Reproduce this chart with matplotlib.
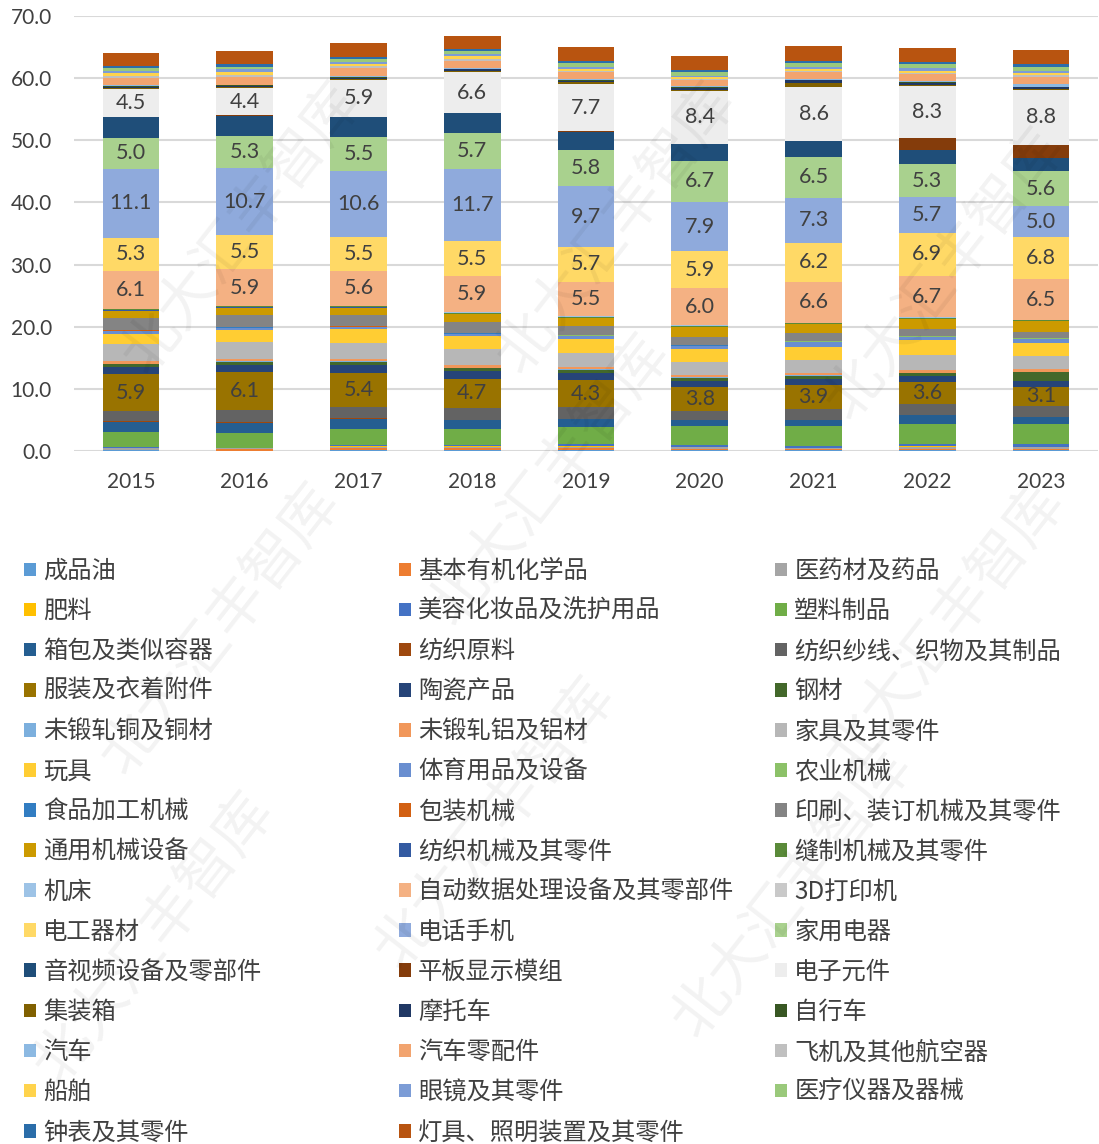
import colorsys

import numpy as np
import matplotlib
matplotlib.use('Agg')
import matplotlib.pyplot as plt
import matplotlib.colors as mcolors
from matplotlib.patches import Patch

plt.rcParams['font.family'] = ['Noto Sans CJK SC', 'DejaVu Sans']

# ----------------------------------------------------------------------
# --- data: share of exports by product (%), stacked bottom to top

years = ['2015', '2016', '2017', '2018', '2019', '2020', '2021', '2022', '2023']

refined_oil = [0.1, 0.05, 0.15, 0.15, 0.15, 0.1, 0.1, 0.15, 0.1]
organic_chem = [0.1, 0.2, 0.25, 0.25, 0.25, 0.2, 0.15, 0.2, 0.2]
medicine = [0.3, 0.15, 0.3, 0.3, 0.3, 0.3, 0.25, 0.35, 0.3]
fertilizer = [0.05, 0.05, 0.05, 0.05, 0.05, 0.05, 0.05, 0.05, 0.05]
cosmetics = [0.15, 0.1, 0.25, 0.25, 0.35, 0.35, 0.3, 0.45, 0.4]
plastics = [2.3, 2.4, 2.5, 2.5, 2.8, 2.95, 3.2, 3.2, 3.3]
luggage = [1.7, 1.6, 1.7, 1.45, 1.2, 1.0, 0.95, 1.35, 1.1]
textile_raw = [0.05, 0.05, 0.05, 0.05, 0.05, 0.05, 0.05, 0.05, 0.05]
yarn_fabric = [1.7, 2.0, 1.9, 1.9, 1.9, 1.45, 1.65, 1.7, 1.75]
apparel = [5.9, 6.1, 5.4, 4.7, 4.3, 3.8, 3.9, 3.6, 3.1]
ceramics = [1.1, 1.1, 1.3, 1.2, 1.2, 1.05, 1.05, 0.95, 0.9]
steel = [0.5, 0.5, 0.5, 0.5, 0.5, 0.45, 0.4, 0.45, 1.4]
copper = [0.1, 0.1, 0.1, 0.1, 0.1, 0.1, 0.1, 0.1, 0.1]
aluminium = [0.4, 0.4, 0.4, 0.5, 0.4, 0.3, 0.35, 0.5, 0.45]
furniture = [2.7, 2.8, 2.6, 2.5, 2.2, 2.1, 2.15, 2.35, 2.15]
toys = [1.7, 1.9, 2.1, 2.1, 2.25, 2.15, 2.15, 2.4, 2.1]
sports = [0.4, 0.3, 0.35, 0.35, 0.55, 0.5, 0.8, 0.55, 0.6]
agri_machinery = [0.05, 0.05, 0.05, 0.05, 0.05, 0.05, 0.05, 0.05, 0.05]
food_machinery = [0.05, 0.05, 0.05, 0.05, 0.05, 0.05, 0.05, 0.05, 0.05]
packaging_machinery = [0.05, 0.05, 0.05, 0.05, 0.05, 0.05, 0.05, 0.05, 0.05]
printing_machinery = [2.0, 1.9, 1.8, 1.7, 1.35, 1.35, 1.2, 1.05, 0.9]
general_machinery = [1.2, 1.2, 1.2, 1.3, 1.3, 1.5, 1.45, 1.6, 1.75]
textile_machinery = [0.1, 0.1, 0.1, 0.1, 0.1, 0.1, 0.1, 0.1, 0.1]
sewing_machinery = [0.1, 0.1, 0.1, 0.1, 0.1, 0.1, 0.1, 0.1, 0.1]
machine_tools = [0.1, 0.1, 0.1, 0.1, 0.1, 0.1, 0.05, 0.1, 0.05]
computers = [6.1, 5.9, 5.6, 5.9, 5.5, 6.0, 6.6, 6.7, 6.5]
printers_3d = [0.02, 0.02, 0.02, 0.02, 0.02, 0.02, 0.02, 0.02, 0.02]
electrical = [5.3, 5.5, 5.5, 5.5, 5.7, 5.9, 6.2, 6.9, 6.8]
phones = [11.1, 10.7, 10.6, 11.7, 9.7, 7.9, 7.3, 5.7, 5.0]
appliances = [5.0, 5.3, 5.5, 5.7, 5.8, 6.7, 6.5, 5.3, 5.6]
av_equipment = [3.3, 3.2, 3.2, 3.2, 3.0, 2.7, 2.6, 2.25, 2.15]
flat_panels = [0.05, 0.05, 0.05, 0.05, 0.05, 0.05, 0.05, 2.05, 2.15]
components = [4.5, 4.4, 5.9, 6.6, 7.7, 8.4, 8.6, 8.3, 8.8]
containers = [0.2, 0.15, 0.15, 0.2, 0.2, 0.2, 0.75, 0.25, 0.2]
motorcycles = [0.15, 0.2, 0.2, 0.25, 0.3, 0.3, 0.4, 0.3, 0.2]
bicycles = [0.1, 0.1, 0.1, 0.1, 0.15, 0.15, 0.1, 0.1, 0.1]
cars = [0.1, 0.1, 0.15, 0.15, 0.15, 0.15, 0.15, 0.15, 0.5]
auto_parts = [1.2, 1.25, 1.3, 1.1, 1.0, 1.0, 1.0, 1.1, 1.1]
aircraft = [0.3, 0.3, 0.3, 0.3, 0.25, 0.2, 0.2, 0.25, 0.3]
ships = [0.5, 0.5, 0.4, 0.5, 0.3, 0.3, 0.35, 0.35, 0.35]
glasses = [0.4, 0.4, 0.3, 0.3, 0.4, 0.25, 0.3, 0.35, 0.35]
medical = [0.4, 0.4, 0.5, 0.5, 0.55, 0.6, 0.65, 0.7, 0.65]
clocks = [0.4, 0.4, 0.3, 0.3, 0.3, 0.25, 0.3, 0.35, 0.35]
lighting = [2.0, 2.2, 2.3, 2.1, 2.25, 2.25, 2.5, 2.3, 2.3]

series = [refined_oil, organic_chem, medicine, fertilizer, cosmetics, plastics,
          luggage, textile_raw, yarn_fabric, apparel, ceramics, steel,
          copper, aluminium, furniture, toys, sports, agri_machinery,
          food_machinery, packaging_machinery, printing_machinery, general_machinery,
          textile_machinery, sewing_machinery,
          machine_tools, computers, printers_3d, electrical, phones, appliances,
          av_equipment, flat_panels, components, containers, motorcycles, bicycles,
          cars, auto_parts, aircraft, ships, glasses, medical,
          clocks, lighting]

names = ['成品油', '基本有机化学品', '医药材及药品', '肥料', '美容化妆品及洗护用品', '塑料制品',
         '箱包及类似容器', '纺织原料', '纺织纱线、织物及其制品', '服装及衣着附件', '陶瓷产品', '钢材',
         '未锻轧铜及铜材', '未锻轧铝及铝材', '家具及其零件', '玩具', '体育用品及设备', '农业机械',
         '食品加工机械', '包装机械', '印刷、装订机械及其零件', '通用机械设备', '纺织机械及其零件',
         '缝制机械及其零件',
         '机床', '自动数据处理设备及其零部件', '3D打印机', '电工器材', '电话手机', '家用电器',
         '音视频设备及零部件', '平板显示模组', '电子元件', '集装箱', '摩托车', '自行车',
         '汽车', '汽车零配件', '飞机及其他航空器', '船舶', '眼镜及其零件', '医疗仪器及器械',
         '钟表及其零件', '灯具、照明装置及其零件']

# series that carry value labels
labelled = ['服装及衣着附件', '自动数据处理设备及其零部件', '电工器材', '电话手机', '家用电器', '电子元件']

# ----------------------------------------------------------------------
# --- office-style palette: 6 accents, then luminance variants


def lum(c, mod, off=0.0):
    r, g, b = mcolors.to_rgb(c)
    h, l, s = colorsys.rgb_to_hls(r, g, b)
    return colorsys.hls_to_rgb(h, min(1.0, l * mod + off), s)


accents = ['#5B9BD5', '#ED7D31', '#A5A5A5', '#FFC000', '#4472C4', '#70AD47']
variants = [(1.0, 0.0), (0.6, 0.0), (0.8, 0.2), (0.8, 0.0), (0.6, 0.4), (0.5, 0.0), (0.7, 0.3), (0.7, 0.0)]
colors = [lum(accents[i % 6], *variants[i // 6]) for i in range(len(series))]
colors[names.index('电子元件')] = '#EDEDED'

# ----------------------------------------------------------------------
# --- plot

fig = plt.figure(figsize=(10.99, 11.44), dpi=100)
ax = fig.add_axes([0.0674, 0.6058, 0.9316, 0.3802])

x = np.arange(len(years))
bottom = np.zeros(len(years))
handles = []
for name, vals, c in zip(names, series, colors):
    vals = np.array(vals)
    bars = ax.bar(x, vals, 0.5, bottom=bottom, color=c, linewidth=0, zorder=3)
    handles.append(Patch(facecolor=c, edgecolor='none'))
    if name in labelled:
        ax.bar_label(bars, labels=[f'{v:.1f}' for v in vals], label_type='center',
                     fontsize=15.5, color='#404040', family='Lato')
    bottom += vals

ax.set_xlim(-0.5, len(years) - 0.5)
ax.set_ylim(0, 70)
ax.set_yticks(np.arange(0, 71, 10))
ax.set_yticklabels([f'{v:.1f}' for v in np.arange(0, 71, 10)])
ax.set_xticks(x)
ax.set_xticklabels(years)
ax.tick_params(axis='both', length=0, labelsize=15, labelcolor='#404040')
ax.tick_params(axis='y', pad=16)
ax.tick_params(axis='x', pad=15)
for lab in ax.get_xticklabels() + ax.get_yticklabels():
    lab.set_family('Lato')
ax.yaxis.grid(True, color='#D9D9D9', linewidth=1.5, zorder=0)
for sp in ax.spines.values():
    sp.set_visible(False)

# legend laid out in three fixed-width columns, row by row
for col, x0 in enumerate([0.0218, 0.3631, 0.7052]):
    fig.legend(handles[col::3], names[col::3], loc='upper left',
               bbox_to_anchor=(x0, 1 - 558 / 1144), frameon=False,
               fontsize=17.5, labelcolor='#404040', borderpad=0, borderaxespad=0,
               handlelength=0.49, handleheight=0.49, handletextpad=0.3,
               labelspacing=0.58)

# faint watermark
for (wx, wy) in [(0.22, 0.8), (0.56, 0.8), (0.86, 0.76), (0.5, 0.58), (0.2, 0.45),
                 (0.45, 0.28), (0.72, 0.22), (0.86, 0.45), (0.14, 0.18)]:
    fig.text(wx, wy, '北大汇丰智库', fontsize=42, color='#000000', alpha=0.05,
             rotation=52, ha='center', va='center', zorder=10)

fig.savefig('out.png', dpi=100)
